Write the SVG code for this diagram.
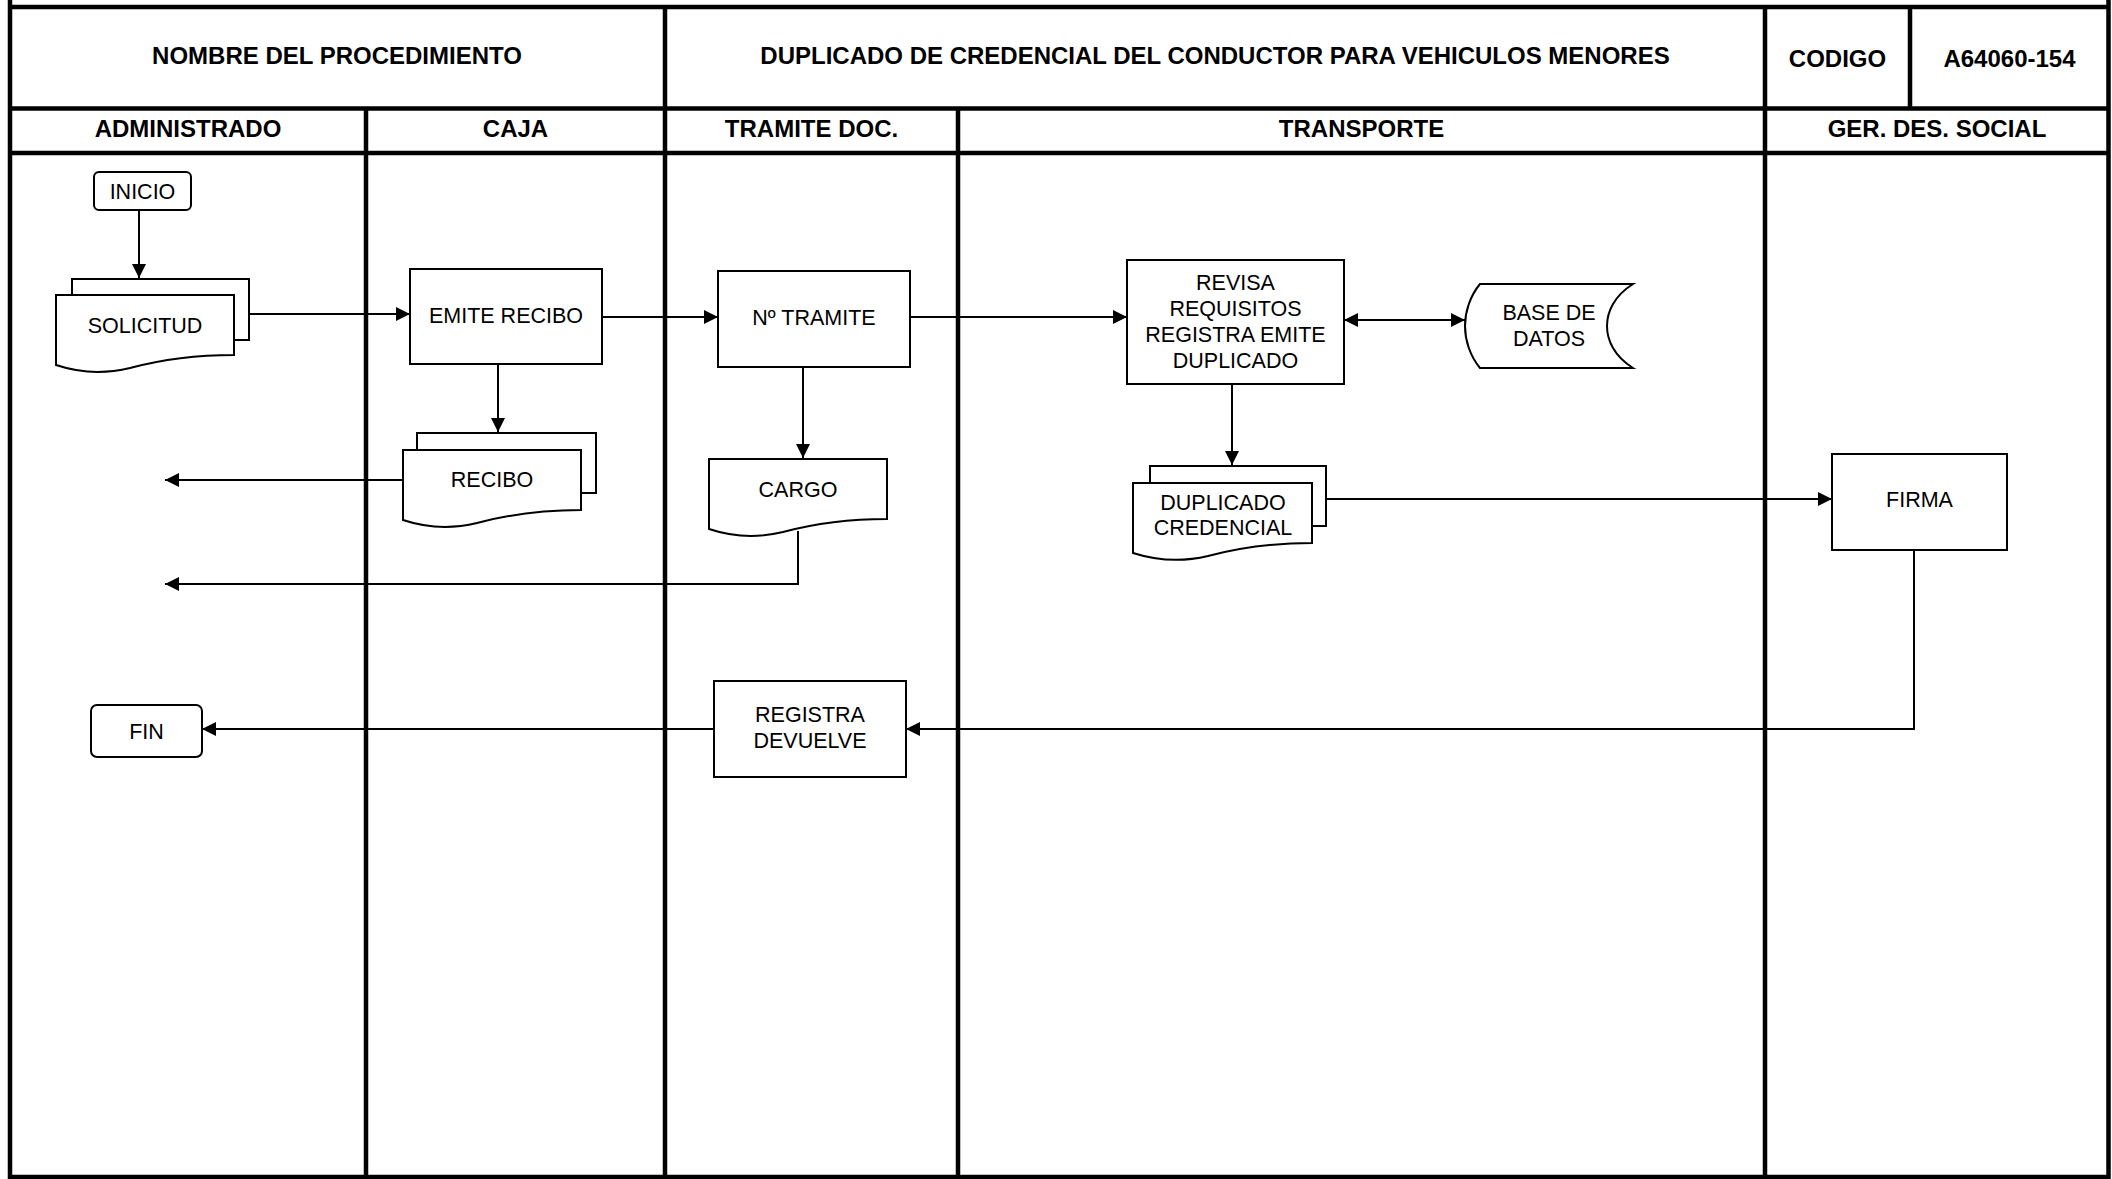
<svg xmlns="http://www.w3.org/2000/svg" width="2112" height="1179" viewBox="0 0 2112 1179">
<style>
.frame{stroke:#000;stroke-width:4.5;fill:none}
.h{font-family:"Liberation Sans",Arial,sans-serif;font-weight:bold;font-size:24px;text-anchor:middle;fill:#000}
.t{font-family:"Liberation Sans",Arial,sans-serif;font-size:21.5px;text-anchor:middle;fill:#000}
.n{fill:#fff;stroke:#000;stroke-width:2}
.c{fill:none;stroke:#000;stroke-width:2}
</style>
<defs>
<marker id="ah" markerUnits="userSpaceOnUse" markerWidth="14" markerHeight="14" refX="14" refY="7" orient="auto-start-reverse">
<path d="M0,0 L14,7 L0,14 Z" fill="#000"/>
</marker>
</defs>
<rect width="2112" height="1179" fill="#fff"/>
<g id="frame" class="frame">
<line x1="10" y1="0" x2="10" y2="1179"/>
<line x1="2108.5" y1="0" x2="2108.5" y2="1179"/>
<line x1="10" y1="7" x2="2108" y2="7"/>
<line x1="10" y1="108.5" x2="2108" y2="108.5"/>
<line x1="10" y1="153" x2="2108" y2="153"/>
<line x1="10" y1="1177" x2="2108" y2="1177"/>
<line x1="366" y1="108.5" x2="366" y2="1177"/>
<line x1="665" y1="7" x2="665" y2="1177"/>
<line x1="958" y1="108.5" x2="958" y2="1177"/>
<line x1="1765" y1="7" x2="1765" y2="1177"/>
<line x1="1910" y1="7" x2="1910" y2="108.5"/>
</g>
<g id="header">
<text class="h" x="337" y="64">NOMBRE DEL PROCEDIMIENTO</text>
<text class="h" x="1215" y="64">DUPLICADO DE CREDENCIAL DEL CONDUCTOR PARA VEHICULOS MENORES</text>
<text class="h" x="1837.5" y="67">CODIGO</text>
<text class="h" x="2009.5" y="67">A64060-154</text>
<text class="h" x="188" y="137">ADMINISTRADO</text>
<text class="h" x="515.5" y="137">CAJA</text>
<text class="h" x="811.5" y="137">TRAMITE DOC.</text>
<text class="h" x="1361.5" y="137">TRANSPORTE</text>
<text class="h" x="1937" y="137">GER. DES. SOCIAL</text>
</g>
<g id="connectors" class="c">
<path d="M139,210 V278" marker-end="url(#ah)"/>
<path d="M234,314 H410" marker-end="url(#ah)"/>
<path d="M498,364 V432" marker-end="url(#ah)"/>
<path d="M403,480 H165" marker-end="url(#ah)"/>
<path d="M602,317 H718" marker-end="url(#ah)"/>
<path d="M803,367 V458" marker-end="url(#ah)"/>
<path d="M798,531 V584 H165" marker-end="url(#ah)"/>
<path d="M910,317 H1127" marker-end="url(#ah)"/>
<path d="M1344,320 H1465" marker-start="url(#ah)" marker-end="url(#ah)"/>
<path d="M1232,384 V465" marker-end="url(#ah)"/>
<path d="M1326,499 H1832" marker-end="url(#ah)"/>
<path d="M1914,550 V729 H906" marker-end="url(#ah)"/>
<path d="M714,729 H202" marker-end="url(#ah)"/>
</g>
<g id="inicio">
<rect class="n" x="94" y="172" width="97" height="38" rx="5"/>
<text class="t" x="142.5" y="199">INICIO</text>
</g>
<g id="solicitud">
<rect class="n" x="72" y="279" width="177" height="61"/>
<path class="n" d="M56,295 H234 V355 C190,355 160,360 130,368 C105,374 80,373 56,365 Z"/>
<text class="t" x="145" y="333">SOLICITUD</text>
</g>
<g id="emite-recibo">
<rect class="n" x="410" y="269" width="192" height="95"/>
<text class="t" x="506" y="323">EMITE RECIBO</text>
</g>
<g id="recibo">
<rect class="n" x="417" y="433" width="179" height="60"/>
<path class="n" d="M403,450 H581 V510 C537,510 507,515 477,523 C452,529 427,528 403,520 Z"/>
<text class="t" x="492" y="487">RECIBO</text>
</g>
<g id="tramite">
<rect class="n" x="718" y="271" width="192" height="96"/>
<text class="t" x="814" y="325">Nº TRAMITE</text>
</g>
<g id="cargo">
<path class="n" d="M709,459 H887 V519 C843,519 813,524 783,532 C758,538 733,537 709,529 Z"/>
<text class="t" x="798" y="497">CARGO</text>
</g>
<g id="revisa">
<rect class="n" x="1127" y="260" width="217" height="124"/>
<text class="t" x="1235.5" y="290">REVISA</text>
<text class="t" x="1235.5" y="316">REQUISITOS</text>
<text class="t" x="1235.5" y="342">REGISTRA EMITE</text>
<text class="t" x="1235.5" y="368">DUPLICADO</text>
</g>
<g id="base-datos">
<path class="n" d="M1480,284 H1633 C1614,296 1607,312 1607,326 C1607,340 1614,356 1633,368 H1480 C1470,356 1465,340 1465,326 C1465,312 1470,296 1480,284 Z"/>
<text class="t" x="1549" y="320">BASE DE</text>
<text class="t" x="1549" y="346">DATOS</text>
</g>
<g id="duplicado">
<rect class="n" x="1150" y="466" width="176" height="60"/>
<path class="n" d="M1133,483 H1312 V543 C1268,543 1238,548 1208,556 C1183,562 1158,561 1133,553 Z"/>
<text class="t" x="1223" y="510">DUPLICADO</text>
<text class="t" x="1223" y="535">CREDENCIAL</text>
</g>
<g id="firma">
<rect class="n" x="1832" y="454" width="175" height="96"/>
<text class="t" x="1919.5" y="507">FIRMA</text>
</g>
<g id="registra">
<rect class="n" x="714" y="681" width="192" height="96"/>
<text class="t" x="810" y="722">REGISTRA</text>
<text class="t" x="810" y="748">DEVUELVE</text>
</g>
<g id="fin">
<rect class="n" x="91" y="705" width="111" height="52" rx="6"/>
<text class="t" x="146.5" y="739">FIN</text>
</g>
</svg>
